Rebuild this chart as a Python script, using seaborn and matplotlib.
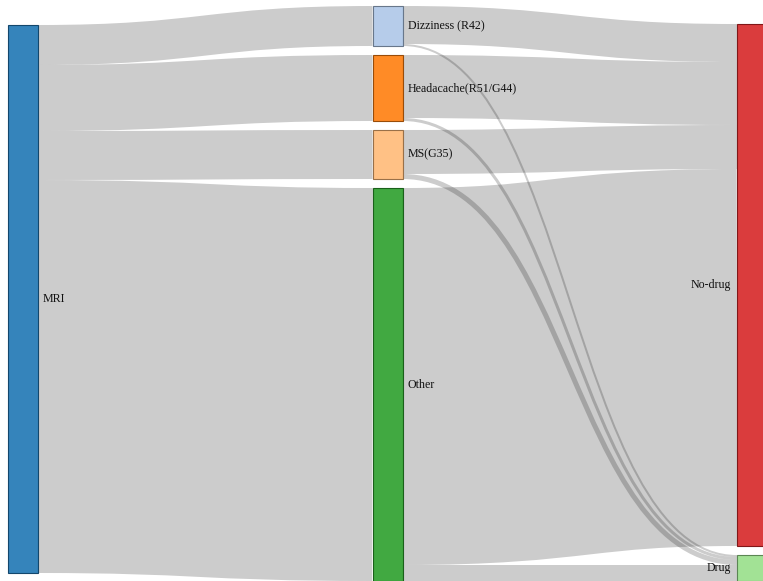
import numpy as np
import pandas as pd
import seaborn as sns
import matplotlib.pyplot as plt
import matplotlib.colors as mcolors
from matplotlib.path import Path
from matplotlib.patches import PathPatch, Rectangle

# Data: nodes and flows (patients)
nodes = ["MRI", "Dizziness (R42)", "Headacache(R51/G44)", "MS(G35)", "Other", "No-drug", "Drug"]
node_col = [0, 1, 1, 1, 1, 2, 2]
sources = ["MRI", "MRI", "MRI", "MRI",
           "Dizziness (R42)", "Dizziness (R42)",
           "Headacache(R51/G44)", "Headacache(R51/G44)",
           "MS(G35)", "MS(G35)",
           "Other", "Other"]
targets = ["Dizziness (R42)", "Headacache(R51/G44)", "MS(G35)", "Other",
           "No-drug", "Drug",
           "No-drug", "Drug",
           "No-drug", "Drug",
           "No-drug", "Drug"]
values = [40, 66, 49, 393, 38, 2, 63, 3, 44, 5, 377, 16]

links = pd.DataFrame({"source": sources, "target": targets, "value": values})

sns.set_theme(style="white")
plt.rcParams["font.family"] = ["Liberation Serif", "DejaVu Serif"]

pal = sns.color_palette("tab20")
node_color = {"MRI": pal[0], "Dizziness (R42)": pal[1], "Headacache(R51/G44)": pal[2],
              "MS(G35)": pal[3], "Other": pal[4], "Drug": pal[5], "No-drug": pal[6]}

W, H = 763, 581
fig = plt.figure(figsize=(W / 100, H / 100), dpi=100)
ax = fig.add_axes([0, 0, 1, 1])
ax.set_xlim(0, W)
ax.set_ylim(H, 0)
ax.axis("off")

# layout
node_w = 30
pad = 9
x_left, x_right = 8, 767
y_top, y_bot = 6, 581
col_top = [25, 6, 24]

node_val = {}
for n in nodes:
    vin = links.loc[links.target == n, "value"].sum()
    vout = links.loc[links.source == n, "value"].sum()
    node_val[n] = max(vin, vout)

ncols = max(node_col) + 1
col_sum = [sum(node_val[n] for n, c in zip(nodes, node_col) if c == k) for k in range(ncols)]
col_n = [node_col.count(k) for k in range(ncols)]
ky = min((y_bot - y_top - (col_n[k] - 1) * pad) / col_sum[k] for k in range(ncols))
step = (x_right - node_w - x_left) / (ncols - 1)

pos = {}
for k in range(ncols):
    y = col_top[k]
    for n, c in zip(nodes, node_col):
        if c != k:
            continue
        h = node_val[n] * ky
        x0 = x_left + k * step
        pos[n] = [x0, x0 + node_w, y, y + h]
        y += h + pad

# link vertical positions
links["y_src"] = 0.0
links["y_tgt"] = 0.0
for n in nodes:
    out = links[links.source == n].copy()
    out = out.sort_values("target", key=lambda s: s.map(lambda t: pos[t][2]))
    y = pos[n][2]
    for i, r in out.iterrows():
        w = r.value * ky
        links.loc[i, "y_src"] = y + w / 2
        y += w
    inc = links[links.target == n].copy()
    inc = inc.sort_values("source", key=lambda s: s.map(lambda t: pos[t][2]))
    y = pos[n][2]
    for i, r in inc.iterrows():
        w = r.value * ky
        links.loc[i, "y_tgt"] = y + w / 2
        y += w

# draw links
for _, r in links.iterrows():
    xa = pos[r.source][1]
    xb = pos[r.target][0]
    xm = (xa + xb) / 2
    path = Path([(xa, r.y_src), (xm, r.y_src), (xm, r.y_tgt), (xb, r.y_tgt)],
                [Path.MOVETO, Path.CURVE4, Path.CURVE4, Path.CURVE4])
    ax.add_patch(PathPatch(path, facecolor="none", edgecolor=(0, 0, 0, 0.2),
                           lw=r.value * ky * 0.72, capstyle="butt"))

# draw nodes and labels
for n in nodes:
    x0, x1, y0, y1 = pos[n]
    col = mcolors.to_rgb(node_color[n])
    dark = tuple(np.array(col) * 0.6)
    ax.add_patch(Rectangle((x0, y0), x1 - x0, y1 - y0, facecolor=col + (0.9,),
                           edgecolor=dark, lw=0.8))
    if x0 < W / 2:
        ax.text(x1 + 5, (y0 + y1) / 2, n, ha="left", va="center", fontsize=8.6, color="#111111")
    else:
        ax.text(x0 - 6, (y0 + y1) / 2, n, ha="right", va="center", fontsize=8.6, color="#111111")

fig.savefig("out.png", dpi=100)
plt.close()
